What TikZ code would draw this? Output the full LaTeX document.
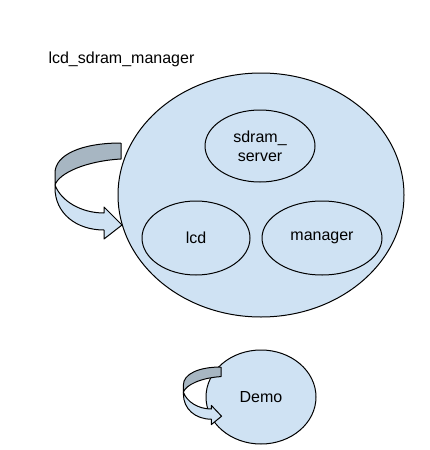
\documentclass[tikz,border=0pt]{standalone}
\usepackage{fontspec}
\setmainfont{Liberation Sans}
\usepackage{tikz}
\definecolor{bubble}{HTML}{CFE2F3}
\definecolor{loopback}{HTML}{A7B6C2}
\tikzset{
  proc/.style={ellipse, draw=black, fill=bubble, line width=1pt, inner sep=0pt, align=center},
  band/.style={draw=black, line width=1pt, line join=round}
}
\usetikzlibrary{shapes.geometric}

\begin{document}
\begin{tikzpicture}[x=1pt, y=-1pt, font=\fontsize{16}{19}\selectfont]
      \useasboundingbox (0,0) rectangle (429,450);

      \node[anchor=base west] (title) at (45,63) {lcd\_sdram\_manager};

      \node[proc, minimum width=286pt, minimum height=244pt] (manager) at (261,195) {};
      \node[proc, minimum width=110pt, minimum height=72pt] (server) at (260,146) {sdram\_\\server};
      \node[proc, minimum width=108pt, minimum height=74pt] (lcd) at (196,238) {lcd};
      \node[proc, minimum width=120pt, minimum height=74pt] (mgr) at (322,238) {manager};
      \node[proc, minimum width=110pt, minimum height=94pt] (demo) at (261,397) {Demo};

      % loop on lcd_sdram_manager
      \begin{scope}[shift={(121,143)}]
        \filldraw[band, fill=loopback] (0,0) -- (0,16)
          .. controls (-35,18) and (-62,30) .. (-66,42) -- (-66,30)
          .. controls (-66,12) and (-40,0) .. (0,0);
        \filldraw[band, fill=bubble] (-66,42)
          .. controls (-60,58) and (-40,70) .. (-17,70) -- (-17,64)
          -- (1,82) -- (-17,96) -- (-17,87)
          .. controls (-45,87) and (-66,70) .. (-66,45) -- cycle;
      \end{scope}

      % loop on Demo
      \begin{scope}[shift={(221,367)}, xscale=0.57, yscale=0.6]
        \filldraw[band, fill=loopback] (0,0) -- (0,16)
          .. controls (-35,18) and (-62,30) .. (-66,42) -- (-66,30)
          .. controls (-66,12) and (-40,0) .. (0,0);
        \filldraw[band, fill=bubble] (-66,42)
          .. controls (-60,58) and (-40,70) .. (-17,70) -- (-17,64)
          -- (1,82) -- (-17,96) -- (-17,87)
          .. controls (-45,87) and (-66,70) .. (-66,45) -- cycle;
      \end{scope}
\end{tikzpicture}
\end{document}
